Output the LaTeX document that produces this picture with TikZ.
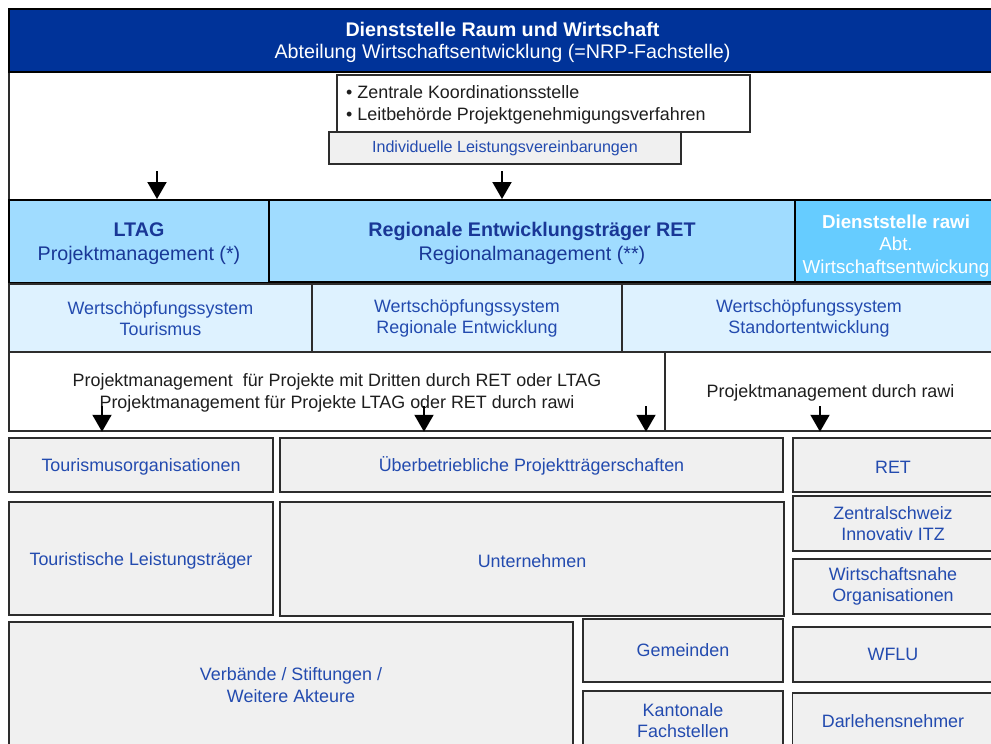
\documentclass[tikz,border=0pt]{standalone}
\usepackage{fontspec}
\setmainfont{Liberation Sans}
\usetikzlibrary{arrows.meta}
\definecolor{dblue}{RGB}{0,51,153}
\definecolor{lblue}{RGB}{160,220,255}
\definecolor{mblue}{RGB}{102,204,255}
\definecolor{pblue}{RGB}{222,242,255}
\definecolor{lgray}{RGB}{240,240,240}
\definecolor{tblue}{RGB}{35,75,175}
\definecolor{hblue}{RGB}{25,55,150}
\definecolor{edge}{RGB}{45,45,45}
\definecolor{ink}{RGB}{30,30,30}
\begin{document}
\begin{tikzpicture}[x=1pt,y=-1pt,
  base/.style={font=\fontsize{17.9}{21.5}\selectfont, align=center, inner sep=0pt, rectangle},
  sz/.style 2 args={minimum width=#1pt, minimum height=#2pt},
  box/.style={base, draw=edge, line width=1.8pt, fill=lgray, text=tblue},
  plain/.style={base, draw=edge, line width=1.5pt, fill=white, text=ink},
  head/.style={base, draw=black, line width=2pt, fill=lblue, text=hblue, font=\fontsize{19.7}{24}\selectfont},
  wsys/.style={base, draw=edge, line width=1.3pt, fill=pblue, text=tblue},
  arr/.style={line width=2pt, draw=black, -{Triangle[width=19pt,length=17pt]}}
]
\useasboundingbox (0,0) rectangle (991,744);
\clip (0,0) rectangle (991,744);

% top area
\node[plain, sz={987}{128}] (whitearea) at (502.5,136) {};
\node[base, draw=black, line width=1.5pt, fill=dblue, sz={987}{63}] (top) at (502.5,40.5) {};
\node[base, text=white, font=\fontsize{19.7}{22.5}\selectfont] (toptext) at (502.5,42.5)
  {\textbf{Dienststelle Raum und Wirtschaft}\\Abteilung Wirtschaftsentwicklung (=NRP-Fachstelle)};
\node[box, line width=1.5pt, sz={352}{32}, font=\fontsize{16.1}{19}\selectfont] (indiv) at (505,148)
  {Individuelle Leistungsvereinbarungen};
\node[plain, sz={413}{57}] (koord) at (543.5,103.5) {};
\node[base, text=ink, align=left, anchor=west] (koordtext) at (346,105)
  {• Zentrale Koordinationsstelle\\• Leitbehörde Projektgenehmigungsverfahren};

% row 2
\node[head, sz={260}{83}] (ltag) at (139,241.5) {};
\node[base, text=hblue, font=\fontsize{19.7}{24}\selectfont] (ltagtext) at (139,243.5) {\textbf{LTAG}\\Projektmanagement (*)};
\node[head, sz={526}{82}] (ret) at (532,241) {};
\node[base, text=hblue, font=\fontsize{19.7}{24}\selectfont] (rettext) at (532,243.5) {\textbf{Regionale Entwicklungsträger RET}\\Regionalmanagement (**)};
\node[head, fill=mblue, sz={202}{82}] (rawi) at (896,241) {};
\node[base, text=white, font=\fontsize{18.75}{22.5}\selectfont] (rawitext) at (896,246)
  {\textbf{Dienststelle rawi}\\Abt.\\Wirtschaftsentwickung};

\coordinate (a1) at (157,171);
\coordinate (a2) at (502,171);
\draw[arr] (a1) -- (a1 |- ltag.north);
\draw[arr] (a2) -- (a2 |- ret.north);

% row 3
\node[wsys, sz={303}{69}] (w1) at (160.5,318.5) {Wertschöpfungssystem\\Tourismus};
\node[wsys, sz={310}{69}] (w2) at (467,318.5) {Wertschöpfungssystem\\Regionale Entwicklung};
\node[wsys, sz={374}{69}] (w3) at (809,318.5) {Wertschöpfungssystem\\Standortentwicklung};

% row 4
\node[plain, sz={656}{79}] (p1) at (337,391.5) {};
\node[base, text=ink] (p1text) at (337,393)
  {Projektmanagement\ \ für Projekte mit Dritten durch RET oder LTAG\\Projektmanagement für Projekte LTAG oder RET durch rawi};
\node[plain, sz={331}{79}] (p2) at (830.5,391.5) {};
\node[base, text=ink] (p2text) at (830.5,393) {Projektmanagement durch rawi};

\coordinate (b1) at (102,406);
\coordinate (b2) at (424,406);
\coordinate (b3) at (646,406);
\coordinate (b4) at (820,406);
\draw[arr] (b1) -- (b1 |- p1.south);
\draw[arr] (b2) -- (b2 |- p1.south);
\draw[arr] (b3) -- (b3 |- p1.south);
\draw[arr] (b4) -- (b4 |- p2.south);

% bottom boxes
\node[box, sz={264}{54}] (tour) at (141,465) {\rule{0pt}{17pt}Tourismusorganisationen};
\node[box, sz={503}{54}] (ueber) at (531.5,465) {\rule{0pt}{17pt}Überbetriebliche Projektträgerschaften};
\node[box, sz={200}{54}] (retb) at (893,465) {\rule{0pt}{17pt}RET};
\node[box, sz={264}{113}] (tl) at (141,558.5) {\rule{0pt}{17pt}Touristische Leistungsträger};
\node[box, sz={504}{114}] (unt) at (532,559) {\rule{0pt}{17pt}Unternehmen};
\node[box, sz={200}{55}] (itz) at (893,523.5) {Zentralschweiz\\Innovativ ITZ};
\node[box, sz={200}{55}] (wno) at (893,586.5) {Wirtschaftsnahe\\Organisationen};
\node[box, sz={564}{126}] (verb) at (291,685) {Verbände / Stiftungen /\\Weitere Akteure};
\node[box, sz={200}{63}] (gem) at (683,650.5) {Gemeinden};
\node[box, sz={200}{59}] (kant) at (683,720.5) {Kantonale\\Fachstellen};
\node[box, sz={200}{55}] (wflu) at (893,654.5) {WFLU};
\node[box, sz={201}{57}] (darl) at (893,721.5) {Darlehensnehmer};
\end{tikzpicture}
\end{document}
